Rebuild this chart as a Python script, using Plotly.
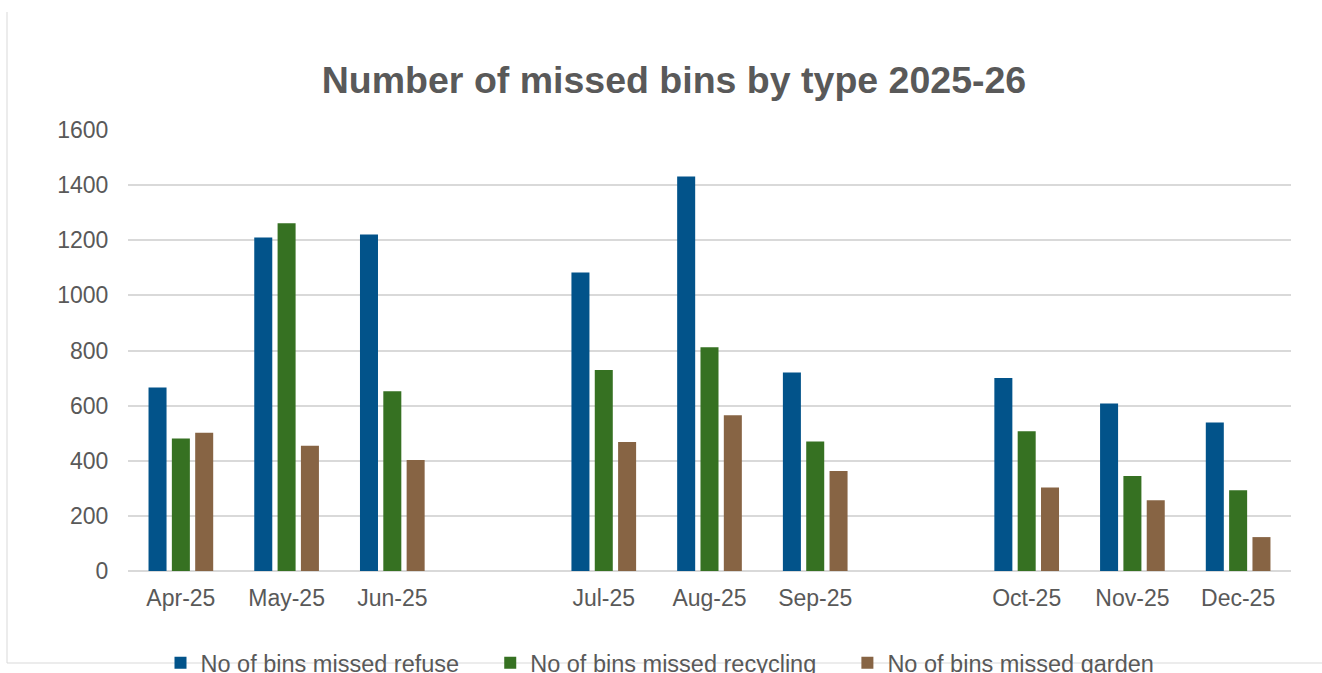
import plotly.graph_objects as go

# Months, with blank slots separating the quarters
months = ["Apr-25", "May-25", "Jun-25", " ", "Jul-25", "Aug-25", "Sep-25", "  ",
          "Oct-25", "Nov-25", "Dec-25"]

refuse = [666, 1210, 1221, None, 1083, 1431, 720, None, 700, 608, 539]
recycling = [481, 1262, 652, None, 729, 812, 470, None, 507, 345, 293]
garden = [502, 454, 403, None, 468, 565, 363, None, 303, 257, 123]

series = [
    ("No of bins missed refuse", refuse, "#02538A"),
    ("No of bins missed recycling", recycling, "#367122"),
    ("No of bins missed garden", garden, "#876444"),
]

grey = "#595959"
font_family = "Liberation Sans, Arial, sans-serif"
pad = "\u00a0" * 4  # extra room after each legend entry

fig = go.Figure()
for name, vals, colour in series:
    fig.add_trace(go.Bar(
        name=name + pad, x=months, y=vals,
        marker=dict(color=colour, line=dict(width=0)),
    ))

# Plot area geometry in pixels, used to place the outer frame lines
L, R, T, B = 128, 31, 130, 102
W, H = 1322, 673
pw, ph = W - L - R, H - T - B

def px_x(x):
    return (x - L) / pw

def px_y(y):
    return (H - B - y) / ph

fig.update_layout(
    width=W, height=H,
    margin=dict(l=L, r=R, t=T, b=B, autoexpand=False),
    paper_bgcolor="white", plot_bgcolor="white",
    font=dict(family=font_family, color=grey, size=23),
    barmode="group", bargap=0.338, bargroupgap=0.228,
    title=dict(
        text="<b>Number of missed bins by type 2025-26</b>",
        font=dict(size=37.5, color=grey, family=font_family),
        x=px_x(674), xref="paper", xanchor="center",
        y=1 - 80 / H, yref="container", yanchor="middle",
    ),
    xaxis=dict(
        type="category", categoryorder="array", categoryarray=months,
        showgrid=False, showline=False, zeroline=False,
        ticks="outside", ticklen=6, tickcolor="rgba(0,0,0,0)",
        tickfont=dict(size=23, color=grey),
    ),
    yaxis=dict(
        range=[0, 1600], tick0=0, dtick=200,
        showgrid=True, gridcolor="#D9D9D9", gridwidth=1.5,
        zeroline=True, zerolinecolor="#D9D9D9", zerolinewidth=1.5,
        showline=False,
        ticks="outside", ticklen=14, tickcolor="rgba(0,0,0,0)",
        tickfont=dict(size=23, color=grey),
    ),
    legend=dict(
        orientation="h",
        x=px_x(673), xanchor="center",
        y=px_y(663), yanchor="middle",
        font=dict(size=23.5, color=grey),
        bgcolor="rgba(0,0,0,0)",
        itemwidth=30,
    ),
    shapes=[
        dict(type="line", xref="paper", yref="paper", layer="below",
             x0=px_x(7), x1=px_x(7), y0=px_y(663), y1=px_y(12),
             line=dict(color="#D9D9D9", width=1)),
        dict(type="line", xref="paper", yref="paper", layer="below",
             x0=px_x(7), x1=px_x(1330), y0=px_y(663), y1=px_y(663),
             line=dict(color="#D9D9D9", width=1)),
    ],
)

fig.write_html("out.html")
